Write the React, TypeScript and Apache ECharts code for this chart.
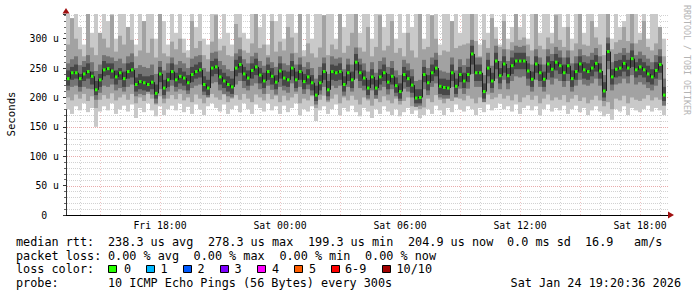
import React, { useEffect, useRef } from "react";
import * as echarts from "echarts";

// time axis: hours counted from Fri 00:00
const START_HOUR = 13.3;
const STEP_HOURS = 0.2;
const X_MIN = 13.3;
const X_MAX = 43.4;
const Y_MAX = 342;

const median = [
  232,242,242,232,240,244,236,213,230,
  247,249,245,235,242,232,244,247,222,
  227,225,222,226,207,240,216,230,244,
  230,236,233,225,239,244,247,222,216,
  250,252,235,228,222,218,250,256,240,
  233,246,252,238,228,244,236,226,245,
  233,230,250,230,244,227,235,225,204,
  225,244,213,244,242,244,222,242,230,
  260,242,233,216,235,216,235,242,226,
  236,220,210,239,232,221,199,200,239,
  225,242,250,219,217,216,242,219,239,
  228,239,274,242,242,210,250,228,262,
  237,257,237,254,262,262,262,245,231,
  257,242,231,257,248,260,254,242,254,
  232,244,257,247,244,250,258,245,211,
  278,235,248,250,258,250,266,247,252,
  247,240,235,246,256,204,
];

const lightHi = [
  345,300,345,320,290,345,310,345,300,
  345,330,345,300,345,345,310,345,290,
  345,320,345,345,300,345,330,290,345,
  310,345,300,280,345,320,345,300,290,
  345,345,300,345,310,290,345,345,310,
  300,345,345,320,345,290,345,330,345,
  300,345,345,310,345,280,345,300,345,
  345,320,345,345,300,345,320,345,345,
  345,310,345,345,300,345,345,320,345,
  345,300,345,310,345,320,345,345,300,
  345,310,345,290,345,345,300,345,310,
  345,345,345,345,290,345,310,345,320,
  290,345,300,320,345,320,345,300,345,
  345,310,345,345,310,345,345,320,345,
  300,345,345,310,345,345,320,345,345,
  345,300,345,320,330,345,330,345,310,
  345,300,345,345,320,300,
];

const lightLo = [
  180,172,185,178,190,175,182,150,176,
  185,178,190,172,180,186,176,188,165,
  182,175,190,178,168,185,170,180,186,
  178,190,175,184,172,188,180,170,185,
  190,182,176,188,172,180,186,175,190,
  180,172,188,182,176,190,178,185,172,
  186,175,182,190,170,180,176,185,160,
  178,185,172,180,188,170,182,176,186,
  175,168,182,176,165,180,172,185,176,
  170,180,168,175,182,172,178,165,170,
  180,172,186,178,170,182,175,188,180,
  176,185,180,170,182,175,188,178,182,
  190,180,185,176,188,172,182,186,178,
  185,170,180,188,176,182,178,186,172,
  180,186,175,182,170,178,185,176,168,
  172,162,180,176,185,170,182,178,175,
  180,186,176,182,178,170,
];

const midHi = [
  290,335,300,282,270,345,285,272,310,
  300,285,340,278,305,290,320,298,270,
  280,330,276,300,268,345,275,270,295,
  282,300,276,268,330,284,296,272,265,
  295,340,280,288,272,270,325,302,280,
  276,292,345,284,290,272,330,278,295,
  280,320,302,276,345,270,292,275,268,
  285,340,272,290,282,345,276,288,310,
  345,285,278,320,270,286,340,280,288,
  330,276,284,270,310,280,268,345,282,
  286,340,300,272,280,278,330,284,288,
  290,292,345,296,270,298,284,335,300,
  286,330,282,294,345,298,302,290,280,
  345,288,282,302,292,340,298,286,320,
  280,292,345,290,288,330,302,290,272,
  345,282,294,298,320,296,345,292,298,
  330,286,280,292,320,270,
];

const midLo = [
  200,195,205,198,206,194,202,182,196,
  204,198,207,195,200,205,196,206,190,
  200,194,206,198,188,202,190,198,204,
  197,206,195,200,192,205,198,190,202,
  206,200,196,205,192,198,204,196,206,
  198,192,205,200,195,206,197,203,192,
  203,195,200,206,190,198,195,202,182,
  196,203,192,198,205,190,200,195,203,
  196,188,200,195,186,198,192,202,195,
  190,198,188,194,200,185,192,180,183,
  198,192,204,196,190,200,194,205,198,
  195,203,198,190,200,194,205,197,200,
  206,198,203,195,205,192,200,204,196,
  203,190,198,205,195,200,196,204,192,
  198,204,194,200,190,196,203,195,185,
  192,180,198,195,203,190,200,196,194,
  198,204,195,200,196,188,
];

const darkHi = [
  258,265,270,255,262,272,260,245,256,
  272,270,268,262,266,258,270,275,250,
  255,252,250,256,240,262,246,258,268,
  256,262,258,250,266,270,272,250,244,
  276,278,262,255,248,245,275,282,265,
  258,270,276,262,254,268,260,252,270,
  258,255,275,256,268,252,260,250,232,
  252,268,240,270,266,268,248,266,256,
  285,266,258,244,260,242,262,268,252,
  262,246,238,264,258,248,228,230,264,
  250,268,276,246,244,242,268,246,265,
  255,266,298,268,268,238,276,254,288,
  262,282,262,280,288,286,288,270,256,
  282,268,256,282,274,286,280,268,280,
  258,270,282,272,270,276,284,270,238,
  302,260,274,276,284,276,292,272,278,
  272,266,260,272,282,232,
];

const darkLo = [
  212,218,220,210,218,215,214,196,208,
  220,218,222,212,216,210,218,222,202,
  206,204,210,205,190,214,198,210,220,
  210,214,212,206,216,220,222,204,200,
  224,226,212,206,202,200,222,228,216,
  212,220,224,214,206,220,213,205,218,
  212,208,224,210,218,206,214,204,188,
  205,218,195,220,216,220,203,218,210,
  232,216,212,198,212,198,212,218,205,
  214,202,194,215,210,200,184,186,214,
  204,218,224,200,198,198,218,200,215,
  206,215,240,218,218,192,224,208,232,
  214,230,214,228,236,234,236,220,210,
  230,218,210,230,222,232,228,218,228,
  210,220,230,222,220,224,232,220,194,
  248,212,222,224,232,224,238,222,226,
  222,216,212,220,230,186,
];

const coreHi = [
  246,252,256,240,252,258,244,228,240,
  262,258,258,246,250,244,258,260,234,
  240,236,236,238,222,252,230,242,258,
  242,250,244,238,252,256,260,236,230,
  262,266,248,242,236,232,264,270,252,
  246,258,266,250,242,256,250,238,258,
  246,244,262,244,256,240,248,238,220,
  238,258,228,256,254,258,236,256,244,
  274,256,246,230,248,230,248,256,240,
  250,234,224,252,246,236,214,214,252,
  238,256,264,232,232,230,256,232,252,
  242,252,288,256,256,224,264,242,276,
  250,270,250,268,276,276,276,258,244,
  270,256,244,270,262,274,268,256,268,
  246,258,270,260,258,264,272,258,226,
  292,248,262,264,272,264,280,260,266,
  260,254,248,260,270,218,
];

const coreLo = [
  220,230,232,218,228,232,222,204,218,
  236,238,232,222,230,218,232,234,210,
  214,212,210,214,198,226,204,218,230,
  218,224,220,212,226,232,234,210,204,
  236,240,222,216,210,206,236,242,228,
  220,232,238,224,216,230,222,214,232,
  220,218,236,216,230,214,222,212,194,
  212,230,202,230,228,230,210,228,216,
  246,228,220,204,222,204,222,228,214,
  222,208,198,226,218,208,190,190,226,
  212,228,236,206,204,204,228,206,226,
  216,226,256,228,228,198,236,216,248,
  224,242,224,240,248,248,248,232,218,
  242,228,218,242,234,246,240,228,240,
  218,230,242,232,230,236,244,232,200,
  262,222,234,236,244,236,252,234,238,
  234,226,222,232,242,194,
];

const hourGrid = [14,15,16,17,18,19,20,21,22,23,24,25,26,27,28,29,30,31,32,33,34,35,36,37,38,39,40,41,42,43];
const valueGrid = [10,20,30,40,50,60,70,80,90,100,110,120,130,140,150,160,170,180,190,200,210,220,230,240,250,260,270,280,290,300,310,320,330,340];
const xLabelHours = [18, 24, 30, 36, 42];

const lossColors = ["#26ff00", "#00b8ff", "#0059ff", "#7e00ff", "#ff00ff", "#ff5e00", "#ff0000", "#a10000"];
const lossLabels = ["0", "1", "2", "3", "4", "5", "6-9", "10/10"];

const MONO = '"DejaVu Sans Mono", monospace';
const BAND_COLORS = ["#c9c9c9", "#a2a2a2", "#747474", "#474747"];
const MEDIAN_LINE = "#1e1e1e";
const MINOR_GRID = "#d2d2d2";
const MAJOR_GRID_H = "#e9abab";
const MAJOR_GRID_V = "#f0c4c4";

function buildOption() {
  const smokeData = median.map((m, i) => [
    START_HOUR + i * STEP_HOURS,
    lightLo[i], lightHi[i], midLo[i], midHi[i], darkLo[i], darkHi[i], coreLo[i], coreHi[i], m,
    i > 0 ? median[i - 1] : m,
  ]);

  const legendTexts: any[] = [];
  const line = (txt: string, x: number, y: number, align = "left") =>
    legendTexts.push({
      type: "text", x, y, silent: true,
      style: { text: txt, font: `11.8px ${MONO}`, fill: "#000", align, verticalAlign: "middle" },
    });
  const y1 = 241.5, y2 = 255.5, y3 = 269.3, y4 = 283.3;
  line("median rtt:", 16, y1);
  line("238.3 us avg", 108, y1);
  line("278.3 us max", 208, y1);
  line("199.3 us min", 308, y1);
  line("204.9 us now", 408, y1);
  line("0.0 ms sd", 507, y1);
  line("16.9", 585, y1);
  line("am/s", 634, y1);
  line("packet loss:", 16, y2);
  line("0.00 % avg", 108, y2);
  line("0.00 % max", 193.6, y2);
  line("0.00 % min", 279.4, y2);
  line("0.00 % now", 365, y2);
  line("loss color:", 16, y3);
  const boxX = [108, 145.5, 182.5, 219.5, 257, 294, 331, 382];
  const labX = [124, 160.6, 197.6, 234.5, 272, 309, 345, 396.5];
  lossColors.forEach((c, i) => {
    legendTexts.push({
      type: "rect", silent: true,
      shape: { x: Math.round(boxX[i]) + 0.5, y: 265.5, width: 8, height: 7 },
      style: { fill: c, stroke: "#000", lineWidth: 1 },
    });
    line(lossLabels[i], labX[i], y3);
  });
  line("probe:", 16, y4);
  line("10 ICMP Echo Pings (56 Bytes) every 300s", 108, y4);
  line("Sat Jan 24 19:20:36 2026", 681, y4, "right");

  const graphic: any[] = [
    ...legendTexts,
    {
      type: "text", x: 11, y: 114, rotation: Math.PI / 2, silent: true,
      style: { text: "Seconds", font: `10.7px ${MONO}`, fill: "#000", align: "center", verticalAlign: "middle" },
    },
    {
      type: "text", x: 687, y: 60, rotation: -Math.PI / 2, silent: true,
      style: { text: "RRDTOOL / TOBI OETIKER", font: `8.3px ${MONO}`, fill: "#b4b4b4", align: "center", verticalAlign: "middle" },
    },
    {
      type: "polygon", silent: true, z: 100,
      shape: { points: [[62.5, 13.5], [69.5, 13.5], [66, 8]] },
      style: { fill: "#a01010" },
    },
    {
      type: "polygon", silent: true, z: 100,
      shape: { points: [[668, 211.5], [668, 218.5], [674, 215]] },
      style: { fill: "#a01010" },
    },
  ];

  return {
    animation: false,
    backgroundColor: "#ffffff",
    grid: { left: 66, top: 14, width: 602, height: 201, containLabel: false },
    xAxis: {
      type: "value", min: X_MIN, max: X_MAX,
      splitLine: { show: false },
      axisTick: { show: false },
      axisLine: { show: true, lineStyle: { color: "#000", width: 1 } },
      axisLabel: {
        customValues: xLabelHours,
        margin: 5,
        color: "#000",
        fontFamily: MONO,
        fontSize: 9.8,
        formatter: (v: number) => {
          const day = v < 24 ? "Fri" : "Sat";
          const h = Math.round(v) % 24;
          return `${day} ${h < 10 ? "0" + h : h}:00`;
        },
      },
    },
    yAxis: {
      type: "value", min: 0, max: Y_MAX, interval: 50,
      splitLine: { show: false },
      axisLine: { show: true, lineStyle: { color: "#333", width: 1 } },
      axisTick: { show: true, length: 3, lineStyle: { color: "#333" } },
      minorTick: { show: true, splitNumber: 5, length: 2, lineStyle: { color: "#666" } },
      axisLabel: {
        margin: 7,
        color: "#000",
        fontFamily: MONO,
        fontSize: 9.8,
        showMaxLabel: false,
        formatter: (v: number) => (v === 0 ? "0\u00a0\u00a0" : v % 50 === 0 && v <= 300 ? `${v} u` : ""),
      },
    },
    graphic,
    series: [
      {
        type: "custom",
        name: "vgrid",
        silent: true,
        z: 1,
        encode: { x: 0, y: 1 },
        data: hourGrid.map((h) => [h, 0]),
        renderItem: (params: any, api: any) => {
          const h = api.value(0);
          const p0 = api.coord([h, 0]);
          const p1 = api.coord([h, Y_MAX]);
          const x = Math.round(p0[0]) + 0.5;
          return {
            type: "line",
            shape: { x1: x, y1: p0[1], x2: x, y2: p1[1] },
            style: { stroke: h % 3 === 0 ? MAJOR_GRID_V : MINOR_GRID, lineWidth: 1, lineDash: [1, 2] },
          };
        },
      },
      {
        type: "custom",
        name: "hgrid",
        silent: true,
        z: 1,
        encode: { x: 0, y: 1 },
        data: valueGrid.map((v) => [X_MIN, v]),
        renderItem: (params: any, api: any) => {
          const v = api.value(1);
          const p0 = api.coord([X_MIN, v]);
          const p1 = api.coord([X_MAX, v]);
          const y = Math.round(p0[1]) + 0.5;
          return {
            type: "line",
            shape: { x1: p0[0] + 1, y1: y, x2: p1[0], y2: y },
            style: { stroke: v % 50 === 0 ? MAJOR_GRID_H : MINOR_GRID, lineWidth: 1, lineDash: [1, 1] },
          };
        },
      },
      {
        type: "custom",
        name: "smoke",
        clip: true,
        z: 2,
        encode: { x: 0, y: [1, 2] },
        data: smokeData,
        renderItem: (params: any, api: any) => {
          const t = api.value(0);
          const x0 = api.coord([t, 0])[0];
          const x1 = api.coord([t + STEP_HOURS, 0])[0];
          const children: any[] = [];
          for (let b = 0; b < 4; b++) {
            const lo = api.value(1 + b * 2);
            const hi = Math.min(api.value(2 + b * 2), Y_MAX);
            const yTop = api.coord([t, hi])[1];
            const yBot = api.coord([t, lo])[1];
            children.push({
              type: "rect",
              shape: { x: x0, y: yTop, width: x1 - x0, height: yBot - yTop },
              style: { fill: BAND_COLORS[b] },
            });
          }
          const ym = api.coord([t, api.value(9)])[1];
          const yp = api.coord([t, api.value(10)])[1];
          const xl = Math.round(x0) + 0.5;
          children.push({
            type: "line",
            shape: { x1: xl, y1: yp, x2: xl, y2: ym },
            style: { stroke: MEDIAN_LINE, lineWidth: 1 },
          });
          children.push({
            type: "line",
            shape: { x1: x0, y1: ym, x2: x1, y2: ym },
            style: { stroke: MEDIAN_LINE, lineWidth: 1 },
          });
          children.push({
            type: "rect",
            shape: { x: x0 + 1, y: ym - 1.5, width: x1 - x0 - 1.5, height: 3 },
            style: { fill: lossColors[0] },
          });
          return { type: "group", children };
        },
      },
    ],
  };
}

export default function App() {
  const ref = useRef<HTMLDivElement>(null);
  useEffect(() => {
    const chart = echarts.init(ref.current as HTMLDivElement, null, { renderer: "svg" });
    chart.setOption(buildOption() as any);
    return () => chart.dispose();
  }, []);
  return (
    <div
      ref={ref}
      style={{ position: "fixed", left: 0, top: 0, width: 697, height: 297, background: "#fff" }}
    />
  );
}
